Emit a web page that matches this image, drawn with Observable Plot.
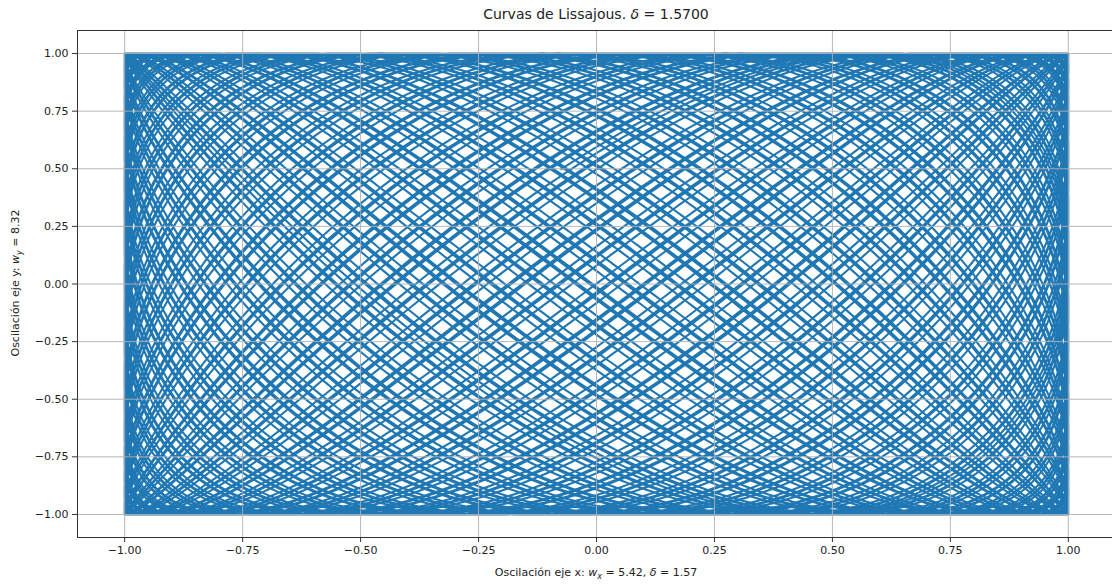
<!DOCTYPE html>
<html>
<head>
<meta charset="utf-8">
<script src="https://cdn.jsdelivr.net/npm/d3@7"></script>
<script src="https://cdn.jsdelivr.net/npm/@observablehq/plot@0.6"></script>
<style>
  html, body { margin: 0; padding: 0; background: #fff; }
  #chart { width: 1112px; height: 586px; overflow: hidden; }
  svg { font-family: "DejaVu Sans", sans-serif; }
</style>
</head>
<body>
<div id="chart"></div>
<script>
// Parameters of the curve
const wx = 5.42;
const wy = 8.32;
const delta = 1.57;
const tMax = 100;
const nPoints = 40000;
const xTicks = [-1.0, -0.75, -0.5, -0.25, 0.0, 0.25, 0.5, 0.75, 1.0];
const yTicks = [-1.0, -0.75, -0.5, -0.25, 0.0, 0.25, 0.5, 0.75, 1.0];

const tValues = d3.range(nPoints + 1).map(i => (i / nPoints) * tMax);
const points = tValues.map(t => ({x: Math.sin(wx * t + delta), y: Math.sin(wy * t)}));

const fmt = d3.format(".2f");
const chart = Plot.plot({
  width: 1112,
  height: 586,
  marginLeft: 77,
  marginRight: -3,
  marginTop: 30,
  marginBottom: 49,
  style: {fontFamily: "DejaVu Sans, sans-serif", fontSize: "11px", color: "#222", background: "#fff"},
  x: {domain: [-1.1, 1.1], ticks: xTicks, tickFormat: fmt, tickSize: 5, tickPadding: 4, label: null},
  y: {domain: [-1.1, 1.1], ticks: yTicks, tickFormat: fmt, tickSize: 5, tickPadding: 4, label: null},
  marks: [
    Plot.line(points, {x: "x", y: "y", stroke: "#1f77b4", strokeWidth: 2.1, curve: "linear"}),
    Plot.gridX(xTicks, {stroke: "#b0b0b0", strokeOpacity: 0.9, strokeWidth: 1}),
    Plot.gridY(yTicks, {stroke: "#b0b0b0", strokeOpacity: 0.9, strokeWidth: 1}),
    Plot.frame({stroke: "#333", strokeWidth: 1}),
    Plot.axisX(xTicks, {tickFormat: fmt, tickSize: 5, tickPadding: 4, label: null, stroke: "#333", fill: "#222"}),
    Plot.axisY(yTicks, {tickFormat: fmt, tickSize: 5, tickPadding: 4, label: null, stroke: "#333", fill: "#222"})
  ]
});
document.getElementById("chart").appendChild(chart);

const svg = d3.select(chart);
// Title
const title = svg.append("text")
  .attr("x", 596).attr("y", 19)
  .attr("text-anchor", "middle")
  .attr("font-size", 14).attr("fill", "#222");
title.append("tspan").text("Curvas de Lissajous. ");
title.append("tspan").attr("font-style", "italic").text("δ");
title.append("tspan").text(" = 1.5700");

// X label
const xl = svg.append("text")
  .attr("x", 596).attr("y", 576)
  .attr("text-anchor", "middle")
  .attr("font-size", 11).attr("fill", "#222");
xl.append("tspan").text("Oscilación eje x: ");
xl.append("tspan").attr("font-style", "italic").text("w");
xl.append("tspan").attr("font-style", "italic").attr("font-size", 8).attr("dy", 3).text("x");
xl.append("tspan").attr("dy", -3).text(" = 5.42, ");
xl.append("tspan").attr("font-style", "italic").text("δ");
xl.append("tspan").text(" = 1.57");

// Y label
const yl = svg.append("text")
  .attr("transform", "translate(19,283) rotate(-90)")
  .attr("text-anchor", "middle")
  .attr("font-size", 11).attr("fill", "#222");
yl.append("tspan").text("Oscilación eje y: ");
yl.append("tspan").attr("font-style", "italic").text("w");
yl.append("tspan").attr("font-style", "italic").attr("font-size", 8).attr("dy", 3).text("y");
yl.append("tspan").attr("dy", -3).text(" = 8.32");
</script>
</body>
</html>
